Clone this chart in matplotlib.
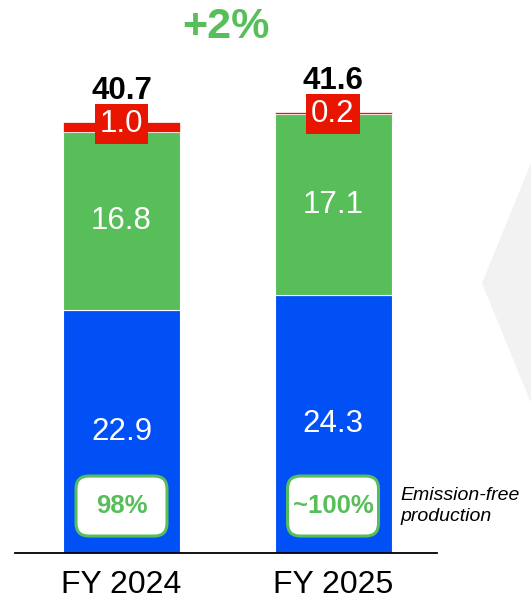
import matplotlib.pyplot as plt
from matplotlib.patches import Polygon, FancyBboxPatch

plt.rcParams['font.family'] = ['Liberation Sans', 'DejaVu Sans']

years = ["FY 2024", "FY 2025"]
emission_free = [22.9, 24.3]
low_carbon = [16.8, 17.1]
other = [1.0, 0.2]
totals = [40.7, 41.6]
share_free = ["98%", "~100%"]
growth = "+2%"

BLUE = "#0050f5"
GREEN = "#57be5a"
RED = "#e81500"

fig = plt.figure(figsize=(5.31, 6.0), dpi=100)

# faint chevron in the background on the right
fig.patches.append(Polygon([(531 / 531, 1 - 163 / 600), (482 / 531, 1 - 283 / 600),
                            (531 / 531, 1 - 403 / 600), (540 / 531, 1 - 403 / 600),
                            (540 / 531, 1 - 163 / 600)],
                           closed=True, transform=fig.transFigure,
                           facecolor="#f2f2f2", edgecolor="none", zorder=0))

ax = fig.add_axes([15 / 531, 47 / 600, 422 / 531, 530 / 600])
ax.set_facecolor("none")
x = [0, 1]
w = 0.553
ax.set_xlim(-0.5035, 1.4915)
ax.set_ylim(0, 50)

bottom2 = [a + b for a, b in zip(emission_free, low_carbon)]
ax.bar(x, emission_free, w, color=BLUE, edgecolor="white", linewidth=0.8)
ax.bar(x, low_carbon, w, bottom=emission_free, color=GREEN, edgecolor="white", linewidth=0.8)
ax.bar(x, other, w, bottom=bottom2, color=RED, edgecolor="white", linewidth=0.5)

# rounded badge size in data units (x per bar slot, y per value unit)
bw, bh = 0.43, 5.66
aspect = 211.5 / 10.6

for i in x:
    ax.text(i, emission_free[i] / 2, f"{emission_free[i]:.1f}", ha="center", va="center",
            color="white", fontsize=22.5)
    ax.text(i, emission_free[i] + low_carbon[i] / 2, f"{low_carbon[i]:.1f}", ha="center",
            va="center", color="white", fontsize=22.5)
    ax.text(i, totals[i] - 0.2, f"{other[i]:.1f}", ha="center", va="center", color="white",
            fontsize=22.5, bbox=dict(boxstyle="square,pad=0.16", facecolor=RED, edgecolor="none"))
    ax.annotate(f"{totals[i]:.1f}", (i, totals[i]), xytext=(0, 22), textcoords="offset points",
                ha="center", va="center", fontsize=22.5, fontweight="bold", color="black")
    ax.add_patch(FancyBboxPatch((i - bw / 2, 4.43 - bh / 2), bw, bh,
                                boxstyle="round,pad=0,rounding_size=0.06",
                                mutation_aspect=aspect, facecolor="white",
                                edgecolor=GREEN, linewidth=2.2, zorder=3))
    ax.text(i, 4.43, share_free[i], ha="center", va="center", color=GREEN, fontsize=18.5,
            fontweight="bold", zorder=4)

ax.text(0.5, 1 - 4 / 530, growth, transform=ax.transAxes, ha="center", va="center",
        fontsize=31, fontweight="bold", color=GREEN, clip_on=False)
ax.text(1.317, 4.43, "Emission-free\nproduction", ha="left", va="center", fontsize=14,
        style="italic", color="black", linespacing=1.25, clip_on=False)

ax.set_xticks(x)
ax.set_xticklabels(years, fontsize=23)
ax.tick_params(axis="x", length=0, pad=12)
ax.set_yticks([])
for side in ["top", "right", "left"]:
    ax.spines[side].set_visible(False)
ax.spines["bottom"].set_linewidth(1.3)

fig.savefig("out.png", dpi=100)
